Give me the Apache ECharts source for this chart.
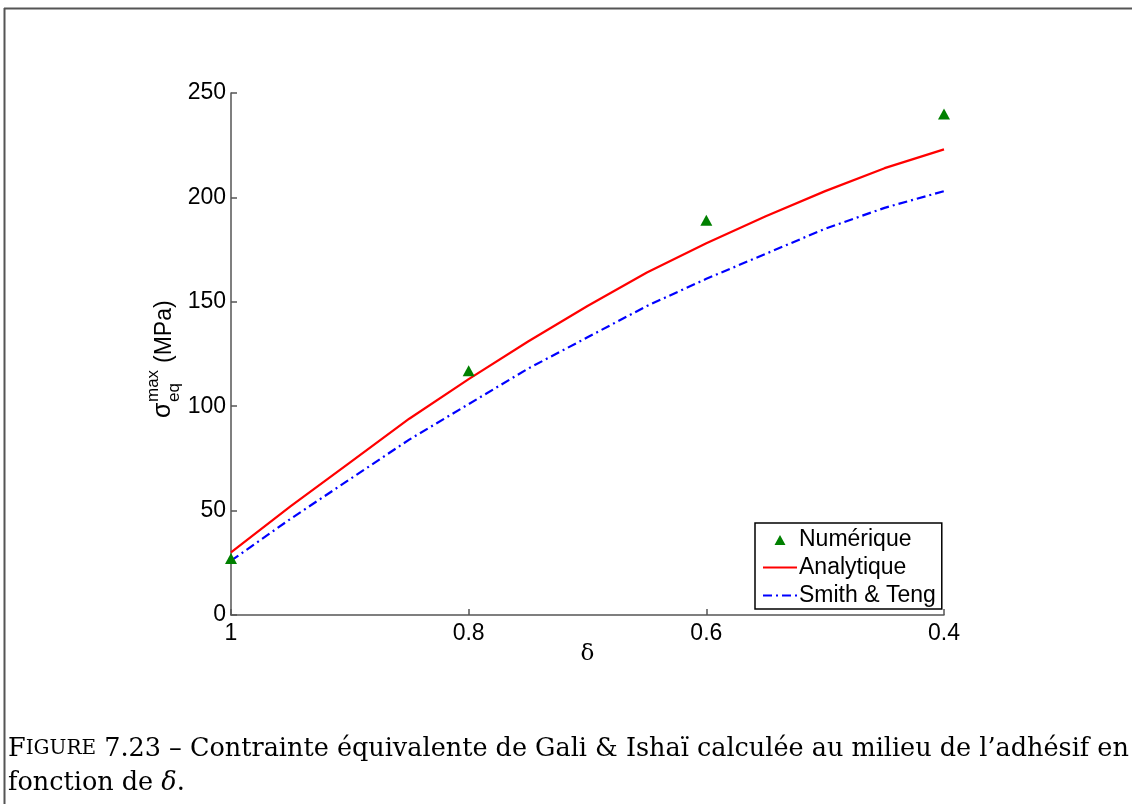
<!DOCTYPE html>
<html>
<head>
<meta charset="utf-8">
<script src="https://cdn.jsdelivr.net/npm/echarts@6/dist/echarts.min.js"></script>
<style>html,body{margin:0;padding:0;background:#fff;}#c{width:1132px;height:804px;}</style>
</head>
<body>
<div id="c"></div>
<script>
const deltaLine = [1, 0.95, 0.9, 0.85, 0.8, 0.75, 0.7, 0.65, 0.6, 0.55, 0.5, 0.45, 0.4];
const analytique = [30, 52, 73, 94, 113, 131, 148, 164, 178, 191, 203, 214, 223];
const smithTeng = [26, 46, 65, 84, 101, 118, 133, 148, 161, 173, 185, 195, 203];
const deltaNum = [1, 0.8, 0.6, 0.4];
const numerique = [27, 117, 189, 240];
const xTicks = ['1', '0.8', '0.6', '0.4'];
const yTicks = ['0', '50', '100', '150', '200', '250'];

const chart = echarts.init(document.getElementById('c'), null, {renderer: 'canvas'});
const sans = 'Liberation Sans';
const serif = 'DejaVu Serif';
const axisCol = '#555';
const triIcon = 'path://M0,0 L0.01,0 L0,0.01 Z M34,14 L33.99,14 L34,13.99 Z M11.5,12.5 L17,2.5 L22.5,12.5 Z';

const option = {
  animation: false,
  backgroundColor: '#fff',
  grid: {left: 231, right: 188, top: 93, bottom: 189, containLabel: false},
  xAxis: {
    type: 'value', inverse: true, min: 0.4, max: 1, interval: 0.2,
    axisLine: {show: true, onZero: false, lineStyle: {color: axisCol, width: 1.5}},
    axisTick: {show: true, inside: true, length: 6, lineStyle: {color: axisCol, width: 1.5}},
    splitLine: {show: false},
    axisLabel: {
      color: '#000', fontFamily: sans, fontSize: 23, margin: 7,
      formatter: v => { const i = Math.round((1 - v) / 0.2); return xTicks[i] !== undefined ? xTicks[i] : ''; }
    },
    name: 'δ', nameLocation: 'middle', nameGap: 28, nameMoveOverlap: false,
    nameTextStyle: {color: '#000', fontFamily: serif, fontSize: 23}
  },
  yAxis: {
    type: 'value', min: 0, max: 250, interval: 50,
    axisLine: {show: true, lineStyle: {color: axisCol, width: 1.5}},
    axisTick: {show: true, inside: true, length: 6, lineStyle: {color: axisCol, width: 1.5}},
    splitLine: {show: false},
    axisLabel: {
      color: '#000', fontFamily: sans, fontSize: 23, margin: 5,
      formatter: v => { const i = Math.round(v / 50); return yTicks[i] !== undefined ? yTicks[i] : ''; }
    }
  },
  legend: {
    show: true,
    left: 755, top: 523,
    orient: 'vertical',
    backgroundColor: '#fff',
    borderColor: '#000', borderWidth: 1.5, borderRadius: 0,
    padding: [5, 6, 2, 7],
    itemGap: 5,
    itemWidth: 34, itemHeight: 14,
    textStyle: {color: '#000', fontFamily: sans, fontSize: 23, padding: [0, 0, 0, -3]},
    data: [
      {name: 'Numérique', icon: triIcon},
      {name: 'Analytique', itemStyle: {opacity: 0}},
      {name: 'Smith & Teng', itemStyle: {opacity: 0}}
    ]
  },
  series: [
    {
      name: 'Numérique', type: 'scatter',
      data: deltaNum.map((d, i) => [d, numerique[i]]),
      symbol: 'triangle', symbolSize: [12, 11],
      itemStyle: {color: '#008000', opacity: 1}, z: 5
    },
    {
      name: 'Analytique', type: 'line',
      data: deltaLine.map((d, i) => [d, analytique[i]]),
      showSymbol: false, symbol: 'none',
      lineStyle: {color: '#ff0000', width: 2.2},
      itemStyle: {color: '#ff0000'}
    },
    {
      name: 'Smith & Teng', type: 'line',
      data: deltaLine.map((d, i) => [d, smithTeng[i]]),
      showSymbol: false, symbol: 'none',
      lineStyle: {color: '#0000ff', width: 2.2, type: [9, 4, 2, 4]},
      itemStyle: {color: '#0000ff'}
    }
  ],
  graphic: [
    {type: 'line', shape: {x1: 4, y1: 8.5, x2: 1132, y2: 8.5}, style: {stroke: '#555', lineWidth: 2}},
    {type: 'line', shape: {x1: 4.5, y1: 8, x2: 4.5, y2: 804}, style: {stroke: '#555', lineWidth: 2}},
    {
      type: 'group', x: 176, y: 418, rotation: Math.PI / 2,
      children: [
        {type: 'text', x: 0, y: 0, style: {text: 'σ', font: '25px "Liberation Sans"', fill: '#000', textVerticalAlign: 'bottom'}},
        {type: 'text', x: 16, y: -14, style: {text: 'max', font: '17px "Liberation Sans"', fill: '#000', textVerticalAlign: 'bottom'}},
        {type: 'text', x: 16, y: 7, style: {text: 'eq', font: '17px "Liberation Sans"', fill: '#000', textVerticalAlign: 'bottom'}},
        {type: 'text', x: 55, y: 0, style: {text: '(MPa)', font: '23px "Liberation Sans"', fill: '#000', textVerticalAlign: 'bottom'}}
      ]
    },
    {
      type: 'text', left: 8, top: 736,
      style: {
        text: '{big|F}{sc|IGURE} 7.23 – Contrainte équivalente de Gali & Ishaï calculée au milieu de l’adhésif en',
        rich: {
          big: {font: '25.5px "DejaVu Serif"', fill: '#000'},
          sc: {font: '20px "DejaVu Serif"', fill: '#000'}
        },
        font: '25.5px "DejaVu Serif"', fill: '#000'
      }
    },
    {
      type: 'text', left: 8, top: 770,
      style: {
        text: 'fonction de {it|δ}.',
        rich: {it: {font: 'italic 25.5px "DejaVu Serif"', fill: '#000'}},
        font: '25.5px "DejaVu Serif"', fill: '#000'
      }
    }
  ]
};
chart.setOption(option);
</script>
</body>
</html>
